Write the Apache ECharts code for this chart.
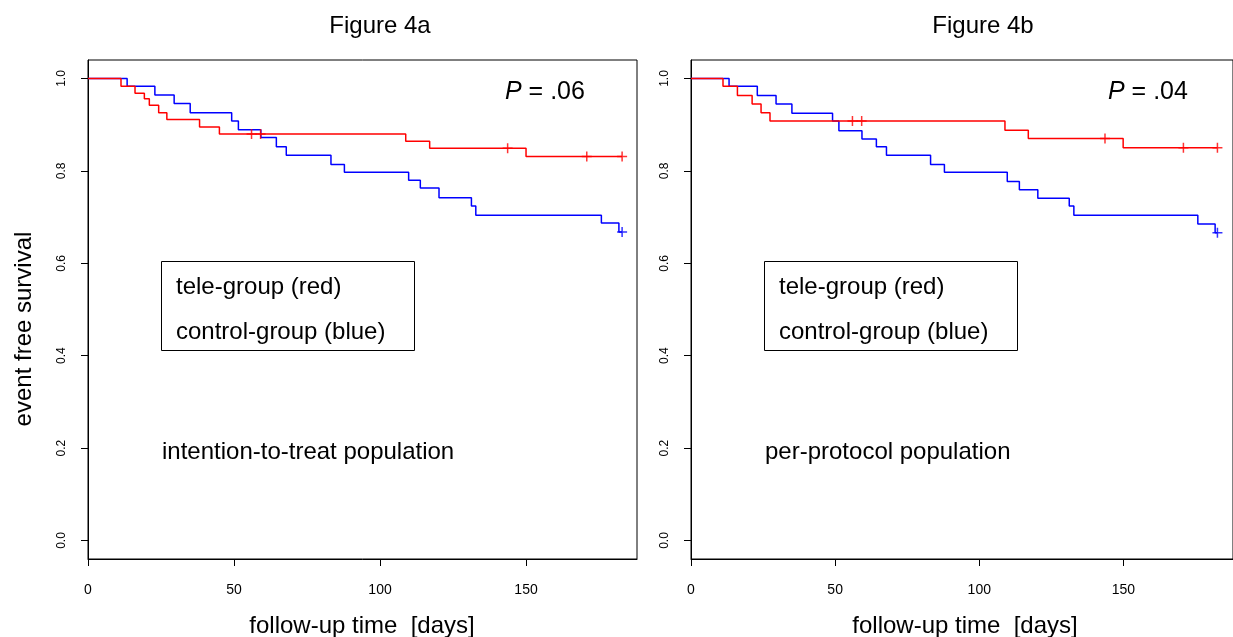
<!DOCTYPE html>
<html>
<head>
<meta charset="utf-8">
<script src="https://cdn.jsdelivr.net/npm/echarts@6/dist/echarts.min.js"></script>
<style>
html,body{margin:0;padding:0;background:#fff;}
#chart{width:1233px;height:637px;}
</style>
</head>
<body>
<div id="chart"></div>
<script>
// ---- Figure 4a: intention-to-treat ----
const ittTeleTimes = [11.3, 16.1, 19.3, 21.0, 24.2, 27.0, 38.2, 45.0, 108.8, 117.0, 150.0];
const ittTeleSurv  = [0.983, 0.968, 0.956, 0.942, 0.926, 0.911, 0.895, 0.880, 0.864, 0.849, 0.831];
const ittTeleEnd = 182.9;
const ittTeleCensorTimes = [56.0, 59.1, 143.7, 170.8, 182.9];
const ittTeleCensorSurv  = [0.880, 0.880, 0.849, 0.831, 0.831];

const ittCtrlTimes = [13.4, 22.9, 29.5, 35.0, 49.2, 51.5, 59.2, 64.5, 67.9, 83.2, 87.8, 109.8, 113.8, 120.2, 131.3, 132.8, 175.8, 181.8];
const ittCtrlSurv  = [0.983, 0.964, 0.946, 0.926, 0.908, 0.889, 0.872, 0.852, 0.834, 0.814, 0.797, 0.780, 0.763, 0.742, 0.724, 0.704, 0.687, 0.668];
const ittCtrlEnd = 182.9;
const ittCtrlCensorTimes = [182.9];
const ittCtrlCensorSurv  = [0.668];

// ---- Figure 4b: per-protocol ----
const ppTeleTimes = [11.1, 16.1, 21.2, 24.3, 27.4, 108.9, 117.0, 149.9];
const ppTeleSurv  = [0.983, 0.963, 0.945, 0.926, 0.908, 0.888, 0.870, 0.850];
const ppTeleEnd = 182.6;
const ppTeleCensorTimes = [56.0, 59.2, 143.6, 170.8, 182.6];
const ppTeleCensorSurv  = [0.908, 0.908, 0.870, 0.850, 0.850];

const ppCtrlTimes = [13.2, 23.0, 29.5, 35.0, 49.1, 51.3, 59.3, 64.3, 67.8, 83.1, 87.9, 109.7, 113.9, 120.3, 131.2, 132.8, 175.8, 181.8];
const ppCtrlSurv  = [0.983, 0.963, 0.945, 0.925, 0.908, 0.887, 0.869, 0.852, 0.834, 0.814, 0.797, 0.777, 0.759, 0.741, 0.724, 0.704, 0.685, 0.666];
const ppCtrlEnd = 182.6;
const ppCtrlCensorTimes = [182.6];
const ppCtrlCensorSurv  = [0.666];

const xTicks = [0, 50, 100, 150];
const yTicks = [0, 0.2, 0.4, 0.6, 0.8, 1.0];
const panelTitles = ['Figure 4a', 'Figure 4b'];
const pValues = ['.06', '.04'];
const populations = ['intention-to-treat population', 'per-protocol population'];
const legendLabels = ['tele-group (red)', 'control-group (blue)'];
const xName = 'follow-up time  [days]';
const yName = 'event free survival';

// ---- helpers ----
function stepData(times, surv, end) {
  const d = [[0, 1]];
  for (let i = 0; i < times.length; i++) d.push([times[i], surv[i]]);
  d.push([end, surv[surv.length - 1]]);
  return d;
}
function pairs(t, s) { return t.map((v, i) => [v, s[i]]); }

const FONT = '"Liberation Sans", Arial, sans-serif';
const RED = '#ff0000', BLUE = '#0000ff';
const plusPath = 'path://M5,0L5,10M0,5L10,5';

const grids = [
  { left: 88, top: 60, width: 549, height: 499, show: true, borderColor: '#000', borderWidth: 1, backgroundColor: 'transparent' },
  { left: 691, top: 60, width: 549, height: 499, show: true, borderColor: '#000', borderWidth: 1, backgroundColor: 'transparent' }
];

function xAx(i) {
  return {
    type: 'value', gridIndex: i, min: 0, max: 188,
    axisLine: { show: true, onZero: false, lineStyle: { color: '#000', width: 1 } },
    axisTick: { show: true, inside: false, length: 7, customValues: xTicks, lineStyle: { color: '#000', width: 1 } },
    axisLabel: { show: true, customValues: xTicks, margin: 24, fontSize: 14, color: '#000', fontFamily: FONT },
    splitLine: { show: false }
  };
}
function yAx(i) {
  return {
    type: 'value', gridIndex: i, min: -0.04, max: 1.04,
    axisLine: { show: true, onZero: false, lineStyle: { color: '#000', width: 1 } },
    axisTick: { show: true, inside: false, length: 7, customValues: yTicks, lineStyle: { color: '#000', width: 1 } },
    axisLabel: { show: true, customValues: yTicks, rotate: 90, margin: 20, fontSize: 12, color: '#000', fontFamily: FONT,
      formatter: v => Number(v).toFixed(1) },
    splitLine: { show: false }
  };
}
function lineSeries(i, data, color) {
  return { type: 'line', xAxisIndex: i, yAxisIndex: i, step: 'end', data: data, symbol: 'none',
    lineStyle: { color: color, width: 1.5 }, silent: true, animation: false, z: 3 };
}
function censorSeries(i, data, color) {
  return { type: 'scatter', xAxisIndex: i, yAxisIndex: i, data: data, symbol: plusPath, symbolSize: 10,
    itemStyle: { color: 'transparent', borderColor: color, borderWidth: 1.5 }, silent: true, animation: false, z: 4 };
}

const series = [
  lineSeries(0, stepData(ittCtrlTimes, ittCtrlSurv, ittCtrlEnd), BLUE),
  lineSeries(0, stepData(ittTeleTimes, ittTeleSurv, ittTeleEnd), RED),
  censorSeries(0, pairs(ittCtrlCensorTimes, ittCtrlCensorSurv), BLUE),
  censorSeries(0, pairs(ittTeleCensorTimes, ittTeleCensorSurv), RED),
  lineSeries(1, stepData(ppCtrlTimes, ppCtrlSurv, ppCtrlEnd), BLUE),
  lineSeries(1, stepData(ppTeleTimes, ppTeleSurv, ppTeleEnd), RED),
  censorSeries(1, pairs(ppCtrlCensorTimes, ppCtrlCensorSurv), BLUE),
  censorSeries(1, pairs(ppTeleCensorTimes, ppTeleCensorSurv), RED)
];

function txt(text, x, y, size, align, extra) {
  return Object.assign({ type: 'text', x: x, y: y, silent: true, z: 10,
    style: { text: text, font: size + 'px ' + FONT, fill: '#000', align: align, verticalAlign: 'middle' } }, extra || {});
}

const graphics = [];
const offsets = [0, 603];
offsets.forEach((dx, i) => {
  graphics.push(txt(panelTitles[i], 380 + dx, 26, 24, 'center'));
  graphics.push(txt(xName, 362 + dx, 626, 24, 'center'));
  graphics.push({ type: 'rect', silent: true, z: 10,
    shape: { x: 161.5 + dx, y: 261.5, width: 253, height: 89 },
    style: { fill: 'none', stroke: '#000', lineWidth: 1 } });
  graphics.push(txt(legendLabels[0], 176 + dx, 287, 24, 'left'));
  graphics.push(txt(legendLabels[1], 176 + dx, 332, 24, 'left'));
  graphics.push(txt(populations[i], 162 + dx, 452, 24, 'left'));
  graphics.push({ type: 'text', x: 505 + dx, y: 92, silent: true, z: 10,
    style: { text: '{i|P} = ' + pValues[i], font: '25px ' + FONT, fill: '#000', align: 'left', verticalAlign: 'middle',
      rich: { i: { fontStyle: 'italic', fontSize: 25, fontFamily: FONT, fill: '#000' } } } });
});
graphics.push(txt(yName, 24, 329, 24, 'center', { rotation: Math.PI / 2 }));

const chart = echarts.init(document.getElementById('chart'), null, { renderer: 'canvas' });
chart.setOption({
  animation: false,
  backgroundColor: '#fff',
  grid: grids,
  xAxis: [xAx(0), xAx(1)],
  yAxis: [yAx(0), yAx(1)],
  series: series,
  graphic: graphics
});
</script>
</body>
</html>
